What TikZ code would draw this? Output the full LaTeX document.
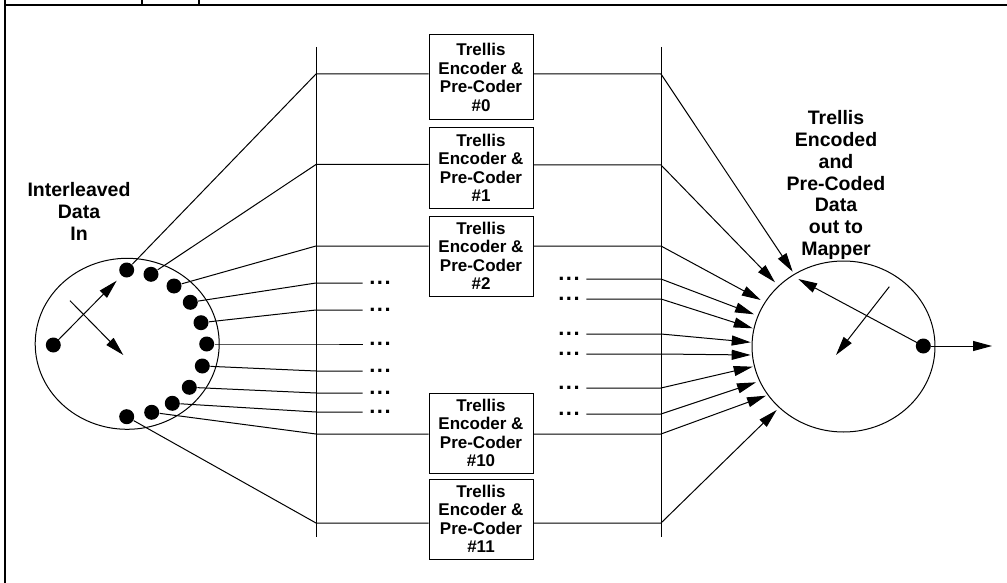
\documentclass[tikz,border=0pt]{standalone}
\usepackage{fontspec}
\setmainfont{Liberation Sans}
\usetikzlibrary{arrows.meta,shapes.geometric}
\begin{document}
\begin{tikzpicture}[x=1pt,y=-1pt,line width=1pt,
  arr/.style={-{Triangle[length=19pt,width=10pt]}},
  enc/.style={draw,rectangle,minimum width=104pt,minimum height=80pt,inner sep=0pt,align=center,font=\fontsize{17}{18.4}\selectfont\bfseries},
  lbl/.style={align=center,inner sep=0pt,font=\fontsize{19.5}{21.9}\selectfont\bfseries},
  ell/.style={inner xsep=6.3pt,inner ysep=0pt,font=\fontsize{22}{22}\selectfont\bfseries,anchor=base},
  tap/.style={circle,fill,inner sep=0pt,minimum size=15pt},
  wheel/.style={draw,ellipse,inner sep=0pt}
]
\newcommand{\tridot}{.\hspace{1.5pt}.\hspace{1.5pt}.}
\useasboundingbox (0,0) rectangle (1007,583);
% frame
\draw[line width=2pt] (5,0) -- (5,583);
\draw[line width=2pt] (4,5) -- (1007,5);
\draw[line width=1.3pt] (142,0) -- (142,5) (199,0) -- (199,5);
% verticals
\draw (316,47) -- (316,537);
\draw (661,47) -- (661,537);
% encoders
\node[enc,minimum height=85pt] (b0) at (481,77.5) {Trellis\\Encoder \&\\Pre-Coder\\\#0};
\node[enc] (b1) at (481,168) {Trellis\\Encoder \&\\Pre-Coder\\\#1};
\node[enc] (b2) at (481,256) {Trellis\\Encoder \&\\Pre-Coder\\\#2};
\node[enc] (b10) at (481,433) {Trellis\\Encoder \&\\Pre-Coder\\\#10};
\node[enc] (b11) at (481,519) {Trellis\\Encoder \&\\Pre-Coder\\\#11};
% labels
\node[lbl] (inl) at (79,211.5) {Interleaved\\Data\\In};
\node[lbl] (outl) at (836,185) {Trellis\\Encoded\\and\\Pre-Coded\\Data\\out to\\Mapper};
% wheels
\node[wheel,minimum width=184pt,minimum height=171pt] (lc) at (127.2,343.8) {};
\node[wheel,minimum width=183pt,minimum height=171pt] (rc) at (843.5,346.5) {};
% taps
\node[tap] (s) at (53.3,345) {};
\node[tap] (d1) at (126.7,270) {};
\node[tap] (d2) at (151,274.3) {};
\node[tap] (d3) at (174,286) {};
\node[tap] (d4) at (190.3,302.3) {};
\node[tap] (d5) at (201,322.7) {};
\node[tap] (d6) at (206.7,344) {};
\node[tap] (d7) at (202.3,366) {};
\node[tap] (d8) at (189.3,387.3) {};
\node[tap] (d9) at (172.3,403.3) {};
\node[tap] (d10) at (151.7,412.3) {};
\node[tap] (d11) at (126.7,416.7) {};
\node[tap] (o) at (923.3,346) {};
% coordinates
\coordinate (l0) at (316,74);
\coordinate (l1) at (316,164.5);
\coordinate (l2) at (316,246);
\coordinate (l3) at (316,283);
\coordinate (l4) at (316,310);
\coordinate (l5) at (316,344);
\coordinate (l6) at (316,371);
\coordinate (l7) at (316,393);
\coordinate (l8) at (316,412);
\coordinate (l9) at (316,434);
\coordinate (l10) at (316,523);
\coordinate (r0) at (661,74);
\coordinate (r1) at (661,165);
\coordinate (r2) at (661,246);
\coordinate (r3) at (661,279);
\coordinate (r4) at (661,299);
\coordinate (r5) at (661,334);
\coordinate (r6) at (661,354);
\coordinate (r7) at (661,388);
\coordinate (r8) at (661,414);
\coordinate (r9) at (661,434);
\coordinate (r10) at (661,523);
\coordinate (t0) at (792.7,271.7);
\coordinate (t1) at (775,282.3);
\coordinate (t2) at (760.7,300);
\coordinate (t3) at (754,314.3);
\coordinate (t4) at (752.7,328.3);
\coordinate (t5) at (750.7,342.3);
\coordinate (t6) at (750.7,355);
\coordinate (t7) at (752.7,366.7);
\coordinate (t8) at (756,382.3);
\coordinate (t9) at (766,395.7);
\coordinate (t10) at (776.7,410);
% ellipsis nodes
\node[ell] (a3) at (380,284.5) {\tridot};
\node[ell] (a4) at (380,311.5) {\tridot};
\node[ell] (a5) at (380,345.5) {\tridot};
\node[ell] (a6) at (380,372.5) {\tridot};
\node[ell] (a7) at (380,394.5) {\tridot};
\node[ell] (a8) at (380,413.5) {\tridot};
\node[ell] (e3) at (569,280.5) {\tridot};
\node[ell] (e4) at (569,300.5) {\tridot};
\node[ell] (e5) at (569,335.5) {\tridot};
\node[ell] (e6) at (569,355.5) {\tridot};
\node[ell] (e7) at (569,389.5) {\tridot};
\node[ell] (e8) at (569,415.5) {\tridot};
% left connectors
\draw (d1) -- (l0) -- (l0 -| b0.west);
\draw (d2) -- (l1) -- (l1 -| b1.west);
\draw (d3) -- (l2) -- (l2 -| b2.west);
\draw (d4) -- (l3) -- (l3 -| a3.west);
\draw (d5) -- (l4) -- (l4 -| a4.west);
\draw (d6) -- (l5) -- (l5 -| a5.west);
\draw (d7) -- (l6) -- (l6 -| a6.west);
\draw (d8) -- (l7) -- (l7 -| a7.west);
\draw (d9) -- (l8) -- (l8 -| a8.west);
\draw (d10) -- (l9) -- (l9 -| b10.west);
\draw (d11) -- (l10) -- (l10 -| b11.west);
% right connectors
\draw[arr] (r0 -| b0.east) -- (r0) -- (t0);
\draw[arr] (r1 -| b1.east) -- (r1) -- (t1);
\draw[arr] (r2 -| b2.east) -- (r2) -- (t2);
\draw[arr] (r3 -| e3.east) -- (r3) -- (t3);
\draw[arr] (r4 -| e4.east) -- (r4) -- (t4);
\draw[arr] (r5 -| e5.east) -- (r5) -- (t5);
\draw[arr] (r6 -| e6.east) -- (r6) -- (t6);
\draw[arr] (r7 -| e7.east) -- (r7) -- (t7);
\draw[arr] (r8 -| e8.east) -- (r8) -- (t8);
\draw[arr] (r9 -| b10.east) -- (r9) -- (t9);
\draw[arr] (r10 -| b11.east) -- (r10) -- (t10);
% wheel arrows
\coordinate (sa) at (116.7,280.7);
\coordinate (sb1) at (70,300.7);
\coordinate (sb2) at (123.3,355);
\draw[arr] (s.center) -- (sa);
\draw[arr] (sb1) -- (sb2);
\coordinate (oa) at (798.3,279);
\coordinate (ob1) at (889.3,286.7);
\coordinate (ob2) at (836,355);
\coordinate (out) at (992,346);
\draw[arr] (o.center) -- (oa);
\draw[arr] (ob1) -- (ob2);
\draw[arr] (o) -- (out);
\end{tikzpicture}
\end{document}
